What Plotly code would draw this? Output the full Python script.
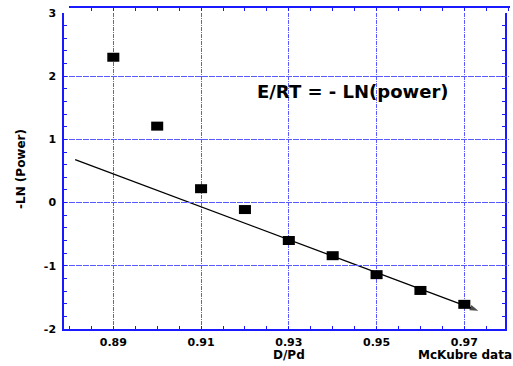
import plotly.graph_objects as go

# ---- data ----
d_pd = [0.89, 0.90, 0.91, 0.92, 0.93, 0.94, 0.95, 0.96, 0.97]
neg_ln_power = [2.30, 1.21, 0.22, -0.11, -0.60, -0.84, -1.14, -1.39, -1.61]
fit_x = [0.8813, 0.9732]
fit_y = [0.68, -1.71]
x_tick_vals = [0.89, 0.91, 0.93, 0.95, 0.97]
x_tick_text = ["0.89", "0.91", "0.93", "0.95", "0.97"]
y_tick_vals = [-2, -1, 0, 1, 2, 3]
y_tick_text = ["-2", "-1", "0", "1", "2", "3"]

# ---- geometry ----
W, H = 513, 366
ML, MR, MT, MB = 64, 3, 7, 37
pw = W - ML - MR          # 446
ph = H - MT - MB          # 322
plot_w = 441
plot_h = 316
px_per_x = 4387.5
xr = [0.87876, 0.87876 + plot_w / px_per_x]
shift = 5 / px_per_x
xr_top = [xr[0] + shift, xr[1] + shift]
yr = [-2, 3]

BLUE = "#1a1aff"
GRID = "#5a5aff"
tfont = dict(family="DejaVu Sans", size=11, color="black", weight="bold")
lfont = dict(family="DejaVu Sans", size=12, color="black", weight="bold")

fig = go.Figure()
# empty trace so the top decoration axis gets drawn (added first, underneath)
fig.add_trace(go.Scatter(x=[], y=[], xaxis="x2", yaxis="y", showlegend=False))
fig.add_trace(go.Scatter(
    x=fit_x, y=fit_y, mode="lines+markers",
    line=dict(color="black", width=1.3),
    marker=dict(symbol=["circle", "arrow"], size=[0, 9], color="black",
                angleref="previous", line=dict(width=0)),
    showlegend=False, hoverinfo="skip", cliponaxis=False))
fig.add_trace(go.Scatter(
    x=d_pd, y=neg_ln_power, mode="markers",
    marker=dict(symbol="line-ew", size=8.6, color="black",
                line=dict(color="black", width=9)),
    showlegend=False, cliponaxis=False))

common_x = dict(range=xr, domain=[0, plot_w / pw], showgrid=False, zeroline=False)
common_y = dict(range=yr, domain=[0, plot_h / ph], showgrid=False, zeroline=False)

fig.update_layout(
    width=W, height=H,
    margin=dict(l=ML, r=MR, t=MT, b=MB, pad=0, autoexpand=False),
    plot_bgcolor="rgba(0,0,0,0)", paper_bgcolor="white",
    xaxis=dict(
        range=xr, domain=[0, plot_w / pw], anchor="y", side="bottom",
        showline=True, linecolor=BLUE, linewidth=1.5, automargin=False,
        tickmode="array", tickvals=x_tick_vals, ticktext=x_tick_text,
        ticks="inside", ticklen=3, tickcolor=BLUE, tickwidth=1,
        minor=dict(dtick=0.005, tick0=0.88, ticks="inside", ticklen=3,
                   tickcolor=BLUE, showgrid=False),
        showgrid=True, gridcolor=GRID, gridwidth=1, griddash="4px,1px,1px,1px",
        zeroline=False, tickfont=tfont, ticklabelstandoff=2),
    xaxis3=dict(common_x, overlaying="x", anchor="y", side="bottom",
                showline=False, ticks="outside", ticklen=3, tickcolor=BLUE,
                tickmode="linear", dtick=0.005, tick0=0.88, showticklabels=False),
    xaxis2=dict(range=xr_top, domain=[shift * px_per_x / pw, 1], anchor="free",
                position=1, side="top",
                showline=True, linecolor=BLUE, linewidth=1.5,
                ticks="inside", ticklen=3, tickcolor=BLUE,
                tickmode="linear", dtick=0.005, tick0=0.88, showticklabels=False,
                showgrid=False, zeroline=False, automargin=False),
    yaxis=dict(
        range=yr, domain=[0, plot_h / ph], anchor="x",
        showline=True, linecolor=BLUE, linewidth=1.5, mirror="ticks",
        tickmode="array", tickvals=y_tick_vals, ticktext=y_tick_text,
        ticks="inside", ticklen=3, tickcolor=BLUE, automargin=False,
        minor=dict(dtick=0.2, tick0=0, ticks="inside", ticklen=3,
                   tickcolor=BLUE, showgrid=False),
        showgrid=True, gridcolor=GRID, gridwidth=1, griddash="4px,1px,1px,1px",
        zeroline=False, tickfont=tfont, ticklabelstandoff=4),
    yaxis3=dict(common_y, overlaying="y", anchor="x", side="left",
                showline=False, mirror="ticks", ticks="outside", ticklen=3,
                tickcolor=BLUE, tickmode="linear", dtick=0.2, tick0=0,
                showticklabels=False),
    annotations=[
        dict(text="E/RT = - LN(power)", xref="paper", yref="paper",
             x=(353 - ML) / pw, y=(329 - 91) / ph, showarrow=False,
             xanchor="center", yanchor="middle",
             font=dict(family="DejaVu Sans", size=18, color="black", weight="bold")),
        dict(text="-LN (Power)", xref="paper", yref="paper",
             x=(21 - ML) / pw, y=(329 - 169) / ph, textangle=-90, showarrow=False,
             xanchor="center", yanchor="middle", font=lfont),
        dict(text="D/Pd", xref="paper", yref="paper",
             x=(288.5 - ML) / pw, y=(329 - 355) / ph, showarrow=False,
             xanchor="center", yanchor="middle", font=lfont),
        dict(text="McKubre data", xref="paper", yref="paper",
             x=(514 - ML) / pw, y=(329 - 355) / ph, showarrow=False,
             xanchor="right", yanchor="middle", font=lfont),
    ],
)

fig.write_html("out.html", config={"displayModeBar": False},
               post_script="document.body.style.margin='0';")
